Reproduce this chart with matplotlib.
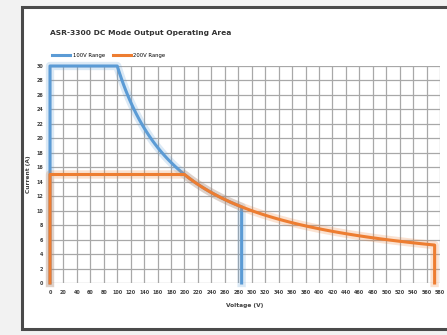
import numpy as np
import matplotlib
matplotlib.use("Agg")
import matplotlib.pyplot as plt
from matplotlib.patches import Rectangle

# Operating-area data (voltage in V, current in A)
title = "ASR-3300 DC Mode Output Operating Area"
series_names = ["100V Range", "200V Range"]
rated_power_w = 3000
low_max_current = 30
low_knee_voltage = 100
low_max_voltage = 285
high_max_current = 15
high_knee_voltage = 200
high_max_voltage = 572
x_ticks = list(range(0, 581, 20))
y_ticks = list(range(0, 31, 2))

colors = ["#5B9BD5", "#ED7D31"]


def envelope(i_max, v_knee, v_max):
    v_curve = np.linspace(v_knee, v_max, 60)
    i_curve = rated_power_w / v_curve
    v = np.concatenate([[0, 0], v_curve, [v_max]])
    i = np.concatenate([[0, i_max], i_curve, [0]])
    return v, i


curves = [
    envelope(low_max_current, low_knee_voltage, low_max_voltage),
    envelope(high_max_current, high_knee_voltage, high_max_voltage),
]

W, H = 447, 335
fig = plt.figure(figsize=(W / 100, H / 100), dpi=100)
fig.patch.set_facecolor("#f2f2f2")

# framed chart area
frame = Rectangle((22 / W, 1 - 329 / H), 440 / W, 322 / H,
                  transform=fig.transFigure, facecolor="white",
                  edgecolor="#4a4a4a", linewidth=2.2, zorder=-5)
fig.patches.append(frame)

ax = fig.add_axes([50 / W, 1 - 283 / H, 390 / W, 217 / H])
ax.set_zorder(2)
ax.set_xlim(0, 580)
ax.set_ylim(0, 30)
ax.set_xticks(x_ticks)
ax.set_yticks(y_ticks)
ax.grid(True, color="#a8a8a8", linewidth=0.9)
ax.set_axisbelow(True)
for s in ax.spines.values():
    s.set_visible(False)
ax.tick_params(length=0, labelsize=3.5, labelcolor="#404040", pad=5)
for lab in ax.get_xticklabels() + ax.get_yticklabels():
    lab.set_fontweight("bold")
ax.set_facecolor("none")

for (v, i), c, name in zip(curves, colors, series_names):
    ax.plot(v, i, color=c, linewidth=6, alpha=0.22, clip_on=False,
            solid_joinstyle="round")
    ax.plot(v, i, color=c, linewidth=2.2, clip_on=False, label=name,
            solid_joinstyle="round")

ax.set_xlabel("Voltage (V)", fontsize=4.2, color="#404040", fontweight="bold",
              labelpad=6)
ax.set_ylabel("Current (A)", fontsize=4.2, color="#404040", fontweight="bold",
              labelpad=4)

fig.text(50 / W, 1 - 33 / H, title, fontsize=5.4, fontweight="bold",
         color="#333333", va="center", ha="left")

handles = ax.get_lines()[1::2]
leg = fig.legend(handles, series_names, loc="center left",
                 bbox_to_anchor=(52 / W, 1 - 55 / H), ncol=2, frameon=False,
                 fontsize=3.8, handlelength=3.5, columnspacing=1.5,
                 handletextpad=0.4, borderaxespad=0, borderpad=0)

fig.savefig("out.png", dpi=100, facecolor=fig.get_facecolor())
